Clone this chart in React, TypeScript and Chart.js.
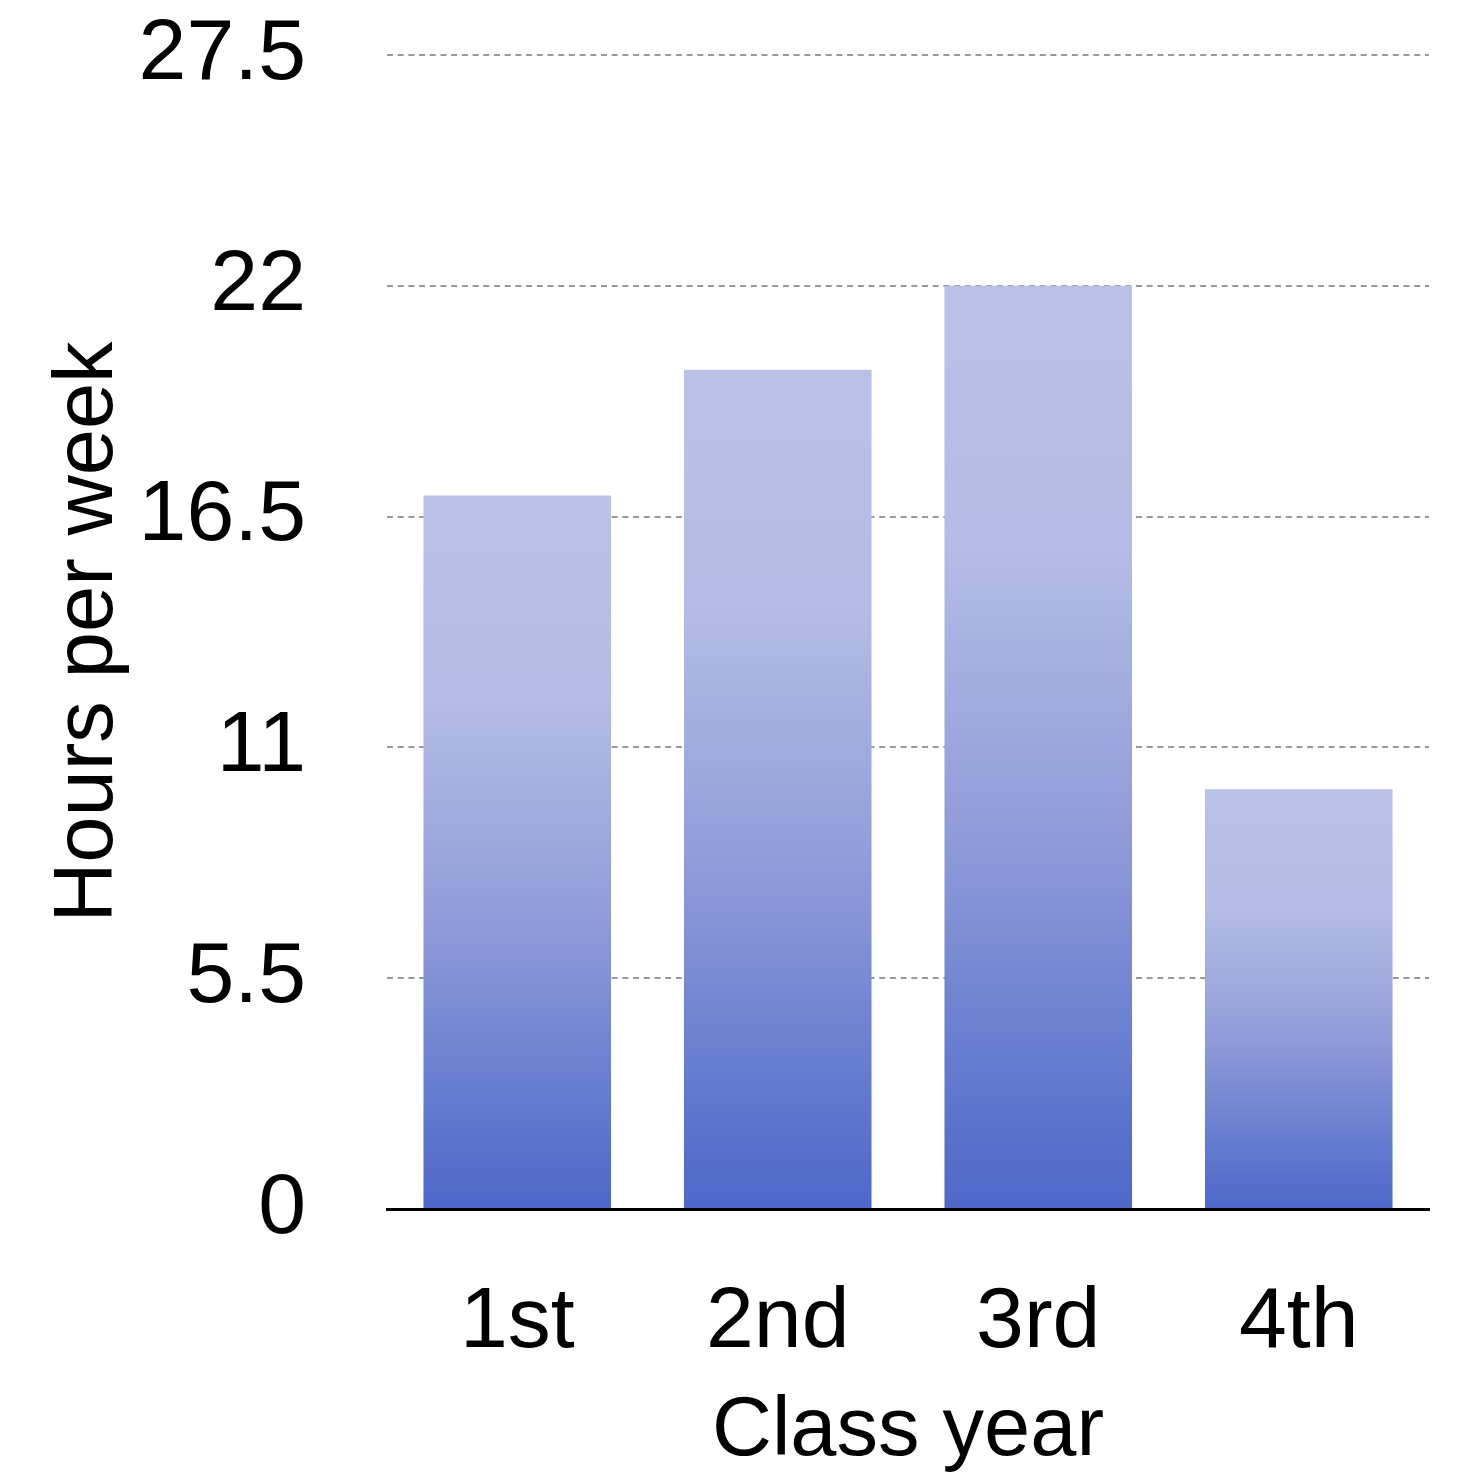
import React, { useEffect, useRef } from "react";
import { Chart, registerables } from "chart.js";

Chart.register(...registerables);

const classYears = ["1st", "2nd", "3rd", "4th"];
const hoursPerWeek = [17, 20, 22, 10];
const yTicks = [0, 5.5, 11, 16.5, 22, 27.5];

const FONT = "'Liberation Sans', Arial, Helvetica, sans-serif";

export default function App() {
  const canvasRef = useRef<HTMLCanvasElement | null>(null);

  useEffect(() => {
    const canvas = canvasRef.current;
    if (!canvas) return;

    // vertical gradient per bar, light at the top fading to deep blue at zero
    const barFill = (ctx: any) => {
      const chart = ctx.chart;
      const i = ctx.dataIndex;
      const yScale = chart.scales?.y;
      if (!chart.chartArea || !yScale || i === undefined) return "#8e9ad8";
      const top = yScale.getPixelForValue(hoursPerWeek[i]);
      const bottom = yScale.getPixelForValue(0);
      const g = chart.ctx.createLinearGradient(0, top, 0, bottom);
      g.addColorStop(0, "#b8c1e6");
      g.addColorStop(0.28, "#b3bde5");
      g.addColorStop(0.6, "#8f9bd9");
      g.addColorStop(0.85, "#637acf");
      g.addColorStop(1, "#4f67c8");
      return g;
    };

    const chart = new Chart(canvas, {
      type: "bar",
      data: {
        labels: classYears,
        datasets: [
          {
            data: hoursPerWeek,
            backgroundColor: barFill,
            borderWidth: 0,
            barPercentage: 0.9,
            categoryPercentage: 0.8,
          },
        ],
      },
      options: {
        animation: false,
        responsive: false,
        maintainAspectRatio: false,
        devicePixelRatio: 1,
        layout: { padding: { top: 55, right: 32, left: 39, bottom: 0 } },
        plugins: {
          legend: { display: false },
          tooltip: { enabled: false },
        },
        scales: {
          x: {
            afterFit: (scale: any) => {
              scale.height = 267;
              scale.paddingLeft = 0;
              scale.paddingRight = 0;
            },
            grid: { display: false, drawTicks: false },
            border: { display: true, color: "#000000", width: 3 },
            ticks: {
              color: "#000000",
              padding: 63,
              font: { family: FONT, size: 86 },
            },
            title: {
              display: true,
              text: "Class year",
              color: "#000000",
              padding: { top: 0, bottom: -6 },
              font: { family: FONT, size: 83 },
            },
          },
          y: {
            min: 0,
            max: 27.5,
            afterBuildTicks: (scale: any) => {
              scale.ticks = yTicks.map((v) => ({ value: v }));
            },
            afterFit: (scale: any) => {
              scale.width = 348;
              scale.paddingTop = 0;
              scale.paddingBottom = 0;
            },
            grid: {
              drawTicks: false,
              color: "#999999",
              lineWidth: 2,
            },
            border: { display: false, dash: [6, 4.7] },
            ticks: {
              color: "#000000",
              padding: 81,
              font: { family: FONT, size: 86 },
              callback: (v: any) => String(v),
            },
            title: {
              display: true,
              text: "Hours per week",
              color: "#000000",
              padding: { top: 0, bottom: 0 },
              font: { family: FONT, size: 83 },
            },
          },
        },
      },
    });

    return () => chart.destroy();
  }, []);

  return (
    <div style={{ position: "fixed", left: 0, top: 0, width: 1461, height: 1476, background: "#ffffff" }}>
      <canvas ref={canvasRef} width={1461} height={1476} style={{ width: 1461, height: 1476, display: "block" }} />
    </div>
  );
}
